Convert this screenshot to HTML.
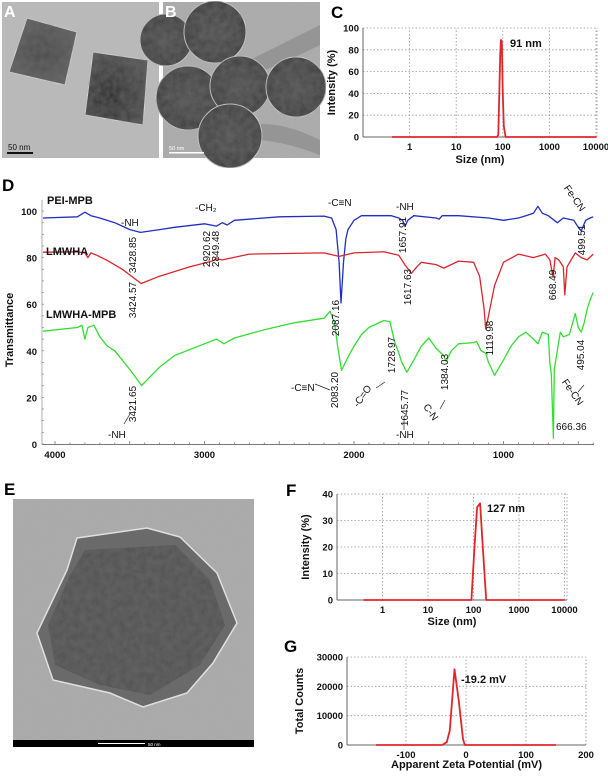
<!DOCTYPE html>
<html><head><meta charset="utf-8"><style>
html,body{margin:0;padding:0;background:#fff;}
svg{display:block;font-family:"Liberation Sans",Arial,sans-serif;}
.t{font-size:9.5px;font-weight:bold;fill:#111;}
.ax{font-size:11px;font-weight:bold;fill:#111;}
.pl{font-size:17px;font-weight:bold;fill:#000;}
.an{font-size:10px;fill:#111;}
.grid{stroke:#999;stroke-width:0.8;stroke-dasharray:1.5,2;}
</style></head><body>
<svg id="fig" width="608" height="776" viewBox="0 0 608 776">
<defs>
<filter id="noise" x="0" y="0" width="100%" height="100%">
<feTurbulence type="fractalNoise" baseFrequency="0.9" numOctaves="2" seed="3" result="n"/>
<feColorMatrix type="matrix" values="0 0 0 0 0.5  0 0 0 0 0.5  0 0 0 0 0.5  0 0 0 0.25 0" in="n" result="g"/>
<feComposite in="g" in2="SourceGraphic" operator="atop"/>
</filter>
<filter id="blot" x="0" y="0" width="100%" height="100%">
<feTurbulence type="fractalNoise" baseFrequency="0.15" numOctaves="3" seed="7" result="n"/>
<feColorMatrix type="matrix" values="0 0 0 0 0.15  0 0 0 0 0.15  0 0 0 0 0.15  0 0 0 0.7 -0.1" in="n" result="g"/>
<feComposite in="g" in2="SourceGraphic" operator="atop"/>
</filter>
<radialGradient id="cube2g" cx="0.4" cy="0.6" r="0.7"><stop offset="0" stop-color="#2a2a2a"/><stop offset="1" stop-color="#5a5a5a"/></radialGradient>
<radialGradient id="cube1g" cx="0.5" cy="0.5" r="0.7"><stop offset="0" stop-color="#4a4a4a"/><stop offset="1" stop-color="#6a6a6a"/></radialGradient>
<radialGradient id="sph" cx="0.5" cy="0.5" r="0.6"><stop offset="0" stop-color="#555"/><stop offset="1" stop-color="#3e3e3e"/></radialGradient>
</defs>

<!-- Panel A -->
<g>
<rect x="2" y="2" width="157" height="156" fill="#b9b9b9" filter="url(#noise)"/>
<polygon points="27,18 77,32 65,85 9,72" fill="url(#cube1g)" stroke="#d8d8d8" stroke-width="1" filter="url(#blot)"/>
<polygon points="93,52 148,60 143,125 85,115" fill="url(#cube2g)" stroke="#d8d8d8" stroke-width="1" filter="url(#blot)"/>
<text x="4" y="17" font-size="16" font-weight="bold" fill="#fff">A</text>
<text x="8" y="150" font-size="8" fill="#111">50 nm</text>
<rect x="7" y="152" width="26" height="2" fill="#111"/>
</g>

<!-- Panel B -->
<g>
<rect x="163" y="2" width="157" height="156" fill="#a9a9a9" filter="url(#noise)"/>
<path d="M250,60 Q290,40 320,25 L320,45 Q290,60 265,70 Z" fill="#959595"/>
<path d="M250,125 Q280,120 320,140 L320,155 Q280,140 255,140 Z" fill="#959595"/>
<g fill="url(#sph)" stroke="#d0d0d0" stroke-width="1" filter="url(#blot)">
<circle cx="166" cy="40" r="26"/>
<circle cx="215" cy="32" r="31"/>
<circle cx="188" cy="98" r="32"/>
<circle cx="240" cy="86" r="30"/>
<circle cx="230" cy="136" r="32"/>
<circle cx="296" cy="87" r="30"/>
</g>
<text x="165" y="17" font-size="16" font-weight="bold" fill="#fff">B</text>
<text x="169" y="150" font-size="5.5" fill="#fff">50 nm</text>
<rect x="169" y="152" width="35" height="1.5" fill="#fff"/>
</g>

<!-- Panel E -->
<g>
<text x="4" y="495" class="pl">E</text>
<rect x="13" y="499" width="241" height="248" fill="#a8a8a8" filter="url(#noise)"/>
<polygon points="77,538 147,528 180,537 217,573 237,623 213,663 187,693 143,707 110,693 53,680 37,633 67,570" fill="#6a6a6a" stroke="#e0e0e0" stroke-width="1.5"/>
<polygon points="85,550 175,545 210,580 225,625 200,665 150,695 100,685 55,665 48,625 70,575" fill="#555" filter="url(#blot)"/>
<rect x="13" y="740" width="241" height="7" fill="#000"/>
<rect x="98" y="743" width="47" height="1" fill="#fff"/>
<text x="148" y="746" font-size="4.5" fill="#fff">50 nm</text>
</g>

<g id="panelC"></g>
<g id="panelD"></g>
<g id="panelF"></g>
<g id="panelG"></g>
</svg>
<script>
// ---- Panel C data ----
const cSizes = [0.42, 75, 80, 88, 91, 95, 100, 105, 115, 10000];
const cIntensity = [0, 0, 2, 75, 89, 88, 40, 10, 0, 0];
const cYTicks = [0, 20, 40, 60, 80, 100];
const cXTicks = [1, 10, 100, 1000, 10000];
// ---- Panel F data ----
const fSizes = [0.38, 90, 105, 120, 140, 160, 190, 10000];
const fIntensity = [0, 0, 20, 35, 36.5, 20, 0, 0];
const fYTicks = [0, 10, 20, 30, 40];
const fXTicks = [1, 10, 100, 1000, 10000];
// ---- Panel G data ----
const gPotential = [-150, -40, -32, -27, -19.2, -12, -5, -2, 150];
const gCounts = [0, 0, 1000, 5000, 25800, 15000, 2000, 0, 0];
const gYTicks = [0, 10000, 20000, 30000];
const gXTicks = [-100, 0, 100, 200];
// ---- Panel D data (wavenumber, transmittance) ----
const dXTicks = [4000, 3000, 2000, 1000];
const dYTicks = [0, 20, 40, 60, 80, 100];
const peiWn = [4080,3850,3800,3760,3700,3600,3500,3428,3300,3200,3000,2920,2880,2849,2800,2500,2200,2150,2120,2100,2087,2070,2055,2040,2000,1950,1750,1700,1675,1658,1640,1600,1450,1430,1410,1300,1100,1000,900,850,800,770,740,700,640,600,530,500,480,450,420,400];
const peiT = [97,97.5,99.5,98,97,95,92,90.8,92,93,94.5,93.5,95,94,96,97.5,97.8,97,92,78,60.5,78,88,92,96,98,98,97,96,93.5,96,98,97,96.5,98,98,97,96,97,98,99,102,99,98,95,97,96,93,91.5,96,97,97.5];
const lmwhaWn = [4080,3850,3800,3780,3760,3720,3650,3550,3424,3300,3100,2950,2920,2880,2700,2200,2100,2000,1800,1700,1660,1617,1580,1550,1450,1400,1350,1300,1200,1160,1130,1119,1100,1060,1000,900,800,720,690,668,655,630,600,590,575,520,480,440,400];
const lmwhaT = [82.3,82.5,82,80,82,81,78.8,75,68.9,72,76,78.5,79.5,79,81.5,82,80.5,82,82.5,81,77,73.2,76,78,77,75.5,77,78.5,78,72,58,49.4,55,68,78,81.5,80,81.5,79,71.7,80,79,76,64,76,82,80,79,81.5];
const mpbWn = [4080,3850,3820,3800,3780,3740,3700,3650,3600,3500,3421,3300,3200,3000,2920,2870,2800,2600,2400,2200,2160,2130,2110,2083,2050,2000,1950,1900,1800,1760,1729,1700,1680,1646,1600,1550,1500,1450,1400,1384,1350,1300,1200,1180,1150,1120,1100,1060,1000,950,900,850,800,770,740,700,690,680,666,660,640,620,600,560,520,500,480,460,440,420,400];
const mpbT = [48.4,50,51,45,50,51,46,42,40,32,25.1,33,38,43,45,43,45.5,49,52,54,57,52,42,31.6,36,42,47,50,53,52.5,44,39,35,30.8,36,42,45.5,41,38,35.5,40,43,43.5,44,40,39,35,29.5,36,42,46,48,45,43,48,47,35,30,2.5,32,40,48,46,47,56,50,48,52,58,62,65];

const NS = 'http://www.w3.org/2000/svg';
function mk(parent, tag, attrs, text) {
  const el = document.createElementNS(NS, tag);
  for (const k in attrs) el.setAttribute(k, attrs[k]);
  if (text !== undefined) el.textContent = text;
  parent.appendChild(el);
  return el;
}
function fmt(v){ return String(v); }

function drawSmall(g, cfg) {
  const {x0,x1,y0,y1,xs,ys} = cfg;
  cfg.yTicks.forEach(v => {
    if (v === cfg.yTicks[0]) return;
    const l = mk(g,'line',{x1:x0,x2:x1,y1:ys(v),y2:ys(v),class:'grid'});
    
    
  });
  cfg.xTicks.forEach(v => {
    const l = mk(g,'line',{x1:xs(v),x2:xs(v),y1:y0,y2:y1,class:'grid'});
    
    
  });
  mk(g,'line',{x1:x1,x2:x1,y1:y0,y2:y1,class:'grid'});
  const ax = mk(g,'path',{d:`M${x0},${y1} V${y0} M${x0},${y0} H${x1}`,stroke:'#666','stroke-width':1,fill:'none'});
  
  
  cfg.yTicks.forEach(v => {
    const t = mk(g,'text',{x:x0-4,y:ys(v)+3.5,class:'t','text-anchor':'end'},fmt(v));
    
    
  });
  cfg.xTicks.forEach(v => {
    const t = mk(g,'text',{x:xs(v),y:y0+13,class:'t','text-anchor':'middle'},fmt(v));
    
    
  });
  const d = cfg.xv.map((v,i)=>(i?'L':'M')+xs(v).toFixed(1)+','+ys(cfg.yv[i]).toFixed(1)).join(' ');
  const p = mk(g,'path',{d:d,stroke:'#e0262b','stroke-width':1.8,fill:'none','stroke-linejoin':'round'});
  
  
  const xt = mk(g,'text',{x:(x0+x1)/2,y:cfg.xtY,class:'ax','text-anchor':'middle'},cfg.xTitle);
  
  
  const yt = mk(g,'text',{x:0,y:0,class:'ax','text-anchor':'middle',transform:`translate(${cfg.ytX},${(y0+y1)/2}) rotate(-90)`},cfg.yTitle);
  
  
  const pl = mk(g,'text',{x:cfg.lab[0],y:cfg.lab[1],class:'pl'},cfg.label);
  
  
  const pk = mk(g,'text',{x:cfg.pk[0],y:cfg.pk[1],class:'ax'},cfg.pkText);
  
  
}

(function(){
  const g = document.getElementById('panelC');
  const x0=363,x1=597,y0=137,y1=28;
  const xs = v => x0 + (Math.log10(v)+1)*46.6;
  const ys = v => y0 - v/100*(y0-y1);
  drawSmall(g,{x0,x1,y0,y1,xs,ys,xv:cSizes,yv:cIntensity,yTicks:cYTicks,xTicks:cXTicks,
    xTitle:'Size (nm)',xtY:163,yTitle:'Intensity (%)',ytX:335,label:'C',lab:[331,18],pk:[510,47],pkText:'91 nm'});
})();
(function(){
  const g = document.getElementById('panelF');
  const x0=337,x1=567,y0=600,y1=494;
  const xs = v => x0 + (Math.log10(v)+1)*45.5;
  const ys = v => y0 - v/40*(y0-y1);
  drawSmall(g,{x0,x1,y0,y1,xs,ys,xv:fSizes,yv:fIntensity,yTicks:fYTicks,xTicks:fXTicks,
    xTitle:'Size (nm)',xtY:625,yTitle:'Intensity (%)',ytX:309,label:'F',lab:[286,496],pk:[487,512],pkText:'127 nm'});
})();
(function(){
  const g = document.getElementById('panelG');
  const x0=347,x1=586,y0=745,y1=657;
  const xs = v => 466 + v*0.6;
  const ys = v => y0 - v/30000*(y0-y1);
  drawSmall(g,{x0,x1,y0,y1,xs,ys,xv:gPotential,yv:gCounts,yTicks:gYTicks,xTicks:gXTicks,
    xTitle:'Apparent Zeta Potential (mV)',xtY:768,yTitle:'Total Counts',ytX:303,label:'G',lab:[284,652],pk:[461,683],pkText:'-19.2 mV'});
})();

(function(){
  const g = document.getElementById('panelD');
  const xs = v => 55 + (4000 - v)*0.1495;
  const ys = v => 444 - v*2.33;
  const x0 = 42, x1 = 594;
  const ax = mk(g,'line',{x1:x0,x2:x1,y1:444.5,y2:444.5,stroke:'#777','stroke-width':1});
  
  
  const ay = mk(g,'line',{x1:x0,x2:x0,y1:200,y2:444.5,stroke:'#999','stroke-width':0.8});
  
  
  for (let v=0; v<=100; v+=5){
    mk(g,'line',{x1:x0,x2:x0+2,y1:ys(v),y2:ys(v),stroke:'#888','stroke-width':0.7});
  }
  for (let v=4000; v>=400; v-=100){
    mk(g,'line',{x1:xs(v),x2:xs(v),y1:444,y2:v%500===0?441:442.5,stroke:'#777','stroke-width':0.8});
  }
  dXTicks.forEach(v=>{
    const t = mk(g,'text',{x:xs(v),y:458,class:'t','text-anchor':'middle'},fmt(v));
    
    
  });
  dYTicks.forEach(v=>{
    const t = mk(g,'text',{x:37,y:ys(v)+4,class:'t','text-anchor':'end'},fmt(v));
    
    
  });
  const series = [[peiWn,peiT,'#1f2fc4','pei-mpb-spectrum'],[lmwhaWn,lmwhaT,'#d9262e','lmwha-spectrum'],[mpbWn,mpbT,'#33dd33','lmwha-mpb-spectrum']];
  series.forEach(s=>{
    const d = s[0].map((v,i)=>(i?'L':'M')+xs(v).toFixed(1)+','+ys(s[1][i]).toFixed(1)).join(' ');
    const p = mk(g,'path',{d:d,stroke:s[2],'stroke-width':1.3,fill:'none','stroke-linejoin':'round'});
    
    
  });
  const yt = mk(g,'text',{x:0,y:0,class:'ax','text-anchor':'middle','font-size':'12',transform:'translate(13,330) rotate(-90)'},'Transmittance');
  
  
  const pl = mk(g,'text',{x:2,y:191,class:'pl'},'D');
  
  
  const names = [['PEI-MPB',47,204,'pei-mpb-label'],['LMWHA',46,255,'lmwha-label'],['LMWHA-MPB',46,318,'lmwha-mpb-label']];
  names.forEach(n=>{
    const t = mk(g,'text',{x:n[1],y:n[2],class:'ax'},n[0]);
    
    
  });
  const groups = [['-NH',121,226],['-CH₂',195,211],['-C≡N',328,206],['-NH',396,210],['-NH',108,438],['-C≡N',291,391],['-NH',396,438],['666.36',556,430]];
  groups.forEach(a=>{
    const t = mk(g,'text',{x:a[1],y:a[2],class:'an'},a[0]);
    
    
  });
  const rot = [['3428.85',136,255],['2920.62',210,249],['2849.48',219,249],['1657.91',406,235],['3424.57',136,300],['2087.16',339,318],['1617.63',411,287],['1119.98',493,338],['668.49',556,285],['499.51',585,240],['3421.65',136,404],['2083.20',338,390],['1728.97',395,355],['1645.77',408,408],['1384.03',448,372],['495.04',584,355]];
  rot.forEach(a=>{
    const t = mk(g,'text',{x:0,y:0,class:'an','text-anchor':'middle',transform:`translate(${a[1]},${a[2]}) rotate(-90)`},a[0]);
    
    
  });
  const tilted = [['Fe-CN',572,200,55],['Fe-CN',570,394,55],['-C=O',365,398,-55],['C-N',428,414,55]];
  tilted.forEach(a=>{
    const t = mk(g,'text',{x:0,y:0,class:'an','text-anchor':'middle',transform:`translate(${a[1]},${a[2]}) rotate(${a[3]})`},a[0]);
    
    
  });
  const arrows = [[124,424,130,414],[315,384,330,390],[404,419,404,430],[376,388,385,382],[440,409,445,400],[584,385,578,392]];
  arrows.forEach(a=>{
    const l = mk(g,'line',{x1:a[0],y1:a[1],x2:a[2],y2:a[3],stroke:'#222','stroke-width':0.7});
    
    
  });
})();
</script>
</body></html>
